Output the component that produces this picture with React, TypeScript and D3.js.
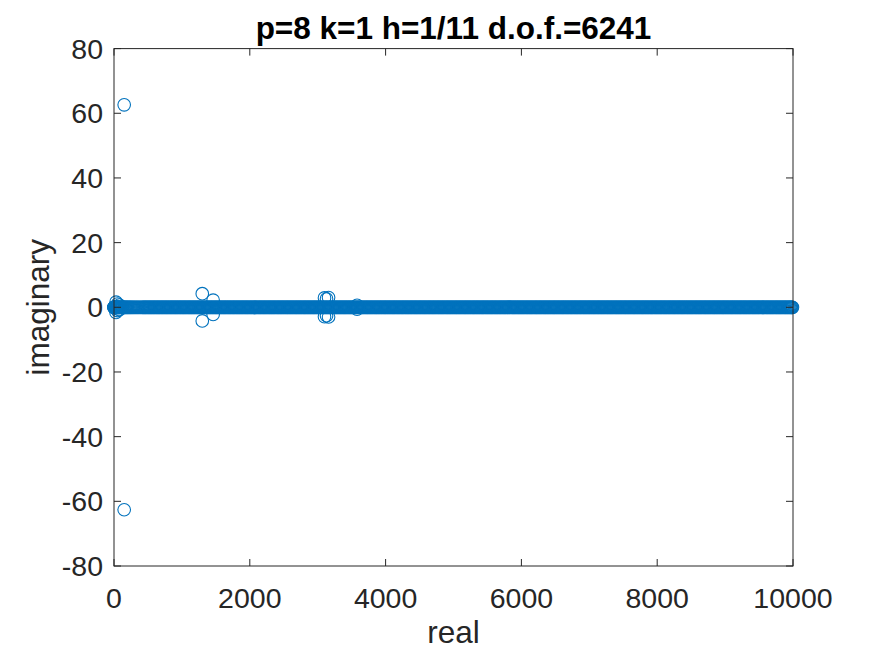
import React from "react";
import * as d3 from "d3";

// ---- data ----
const xTicks = [0, 2000, 4000, 6000, 8000, 10000];
const yTicks = [-80, -60, -40, -20, 0, 20, 40, 60, 80];
const titleText = "p=8 k=1 h=1/11 d.o.f.=6241";

// purely real eigenvalues (imaginary part 0), read as a dense band along the axis
const realEigsA = [
  0.3, 1, 2, 3.5, 5, 7, 9, 12, 15, 18, 22, 26, 30, 35, 40, 46, 52, 58, 65, 72, 80, 88, 96,
  105, 114, 124, 134, 145, 156, 168, 180, 193, 206, 220, 234, 248, 263, 278, 294, 310, 327,
  344, 361, 379, 397, 415, 441, 466, 493, 519, 545, 572, 597, 624, 650, 676, 703, 728, 755,
  781, 807, 834, 859, 886, 912, 938, 965, 990, 1017, 1043, 1069, 1096, 1121, 1148, 1174,
  1200, 1227, 1252, 1279, 1305, 1331, 1358, 1383, 1410, 1436, 1462, 1489, 1514, 1541, 1567,
  1593, 1620, 1645, 1672, 1698, 1724, 1751, 1776, 1803, 1829, 1855, 1882, 1907, 1934, 1960,
  1986, 2013, 2038, 2065, 2091, 2117, 2144, 2169, 2196, 2222, 2248, 2275, 2300, 2327, 2353,
  2379, 2406, 2431, 2458, 2484, 2510, 2537, 2562, 2589, 2615, 2641, 2668, 2693, 2720, 2746,
  2772, 2799, 2824, 2851, 2877, 2903, 2930, 2955, 2982, 3008, 3034, 3061, 3086, 3113, 3139,
  3165, 3192, 3217, 3244, 3270, 3296, 3323, 3348, 3375, 3401, 3427, 3454, 3479, 3506, 3532,
  3558, 3585, 3610, 3637, 3663, 3689, 3716, 3741, 3768, 3794, 3820, 3847, 3872, 3899, 3925,
  3951, 3978, 4003, 4030, 4056, 4082, 4109, 4134, 4161, 4187, 4213, 4240, 4265, 4292, 4318,
  4344, 4371, 4396, 4423, 4449, 4475, 4502, 4527, 4554, 4580, 4606, 4633, 4658, 4685, 4711,
  4737, 4764, 4789, 4816, 4842, 4868, 4895, 4920, 4947, 4973, 4999, 5026, 5051, 5078, 5104,
  5130, 5157, 5182, 5209, 5235, 5261, 5288, 5313, 5340, 5366, 5392, 5419, 5444, 5471, 5497,
  5523, 5550, 5575, 5602, 5628, 5654, 5681, 5706, 5733, 5759, 5785, 5812, 5837, 5864, 5890,
  5916, 5943, 5968, 5995, 6021, 6047, 6074, 6099, 6126, 6152, 6178, 6205, 6230, 6257, 6283,
  6309, 6336, 6361, 6388, 6414, 6440, 6467, 6492, 6519, 6545, 6571, 6598, 6623, 6650, 6676,
  6702, 6729, 6754, 6781, 6807, 6833, 6860, 6885, 6912, 6938, 6964, 6991, 7016, 7043, 7069,
  7095, 7122, 7147, 7174, 7200, 7226, 7253, 7278, 7305, 7331, 7357, 7384, 7409, 7436, 7462,
  7488, 7515, 7540, 7567, 7593, 7619, 7646, 7671, 7698, 7724, 7750, 7777, 7802, 7829, 7855,
  7881, 7908, 7933, 7960, 7986, 8012, 8039, 8064, 8091, 8117, 8143, 8170, 8195, 8222, 8248,
  8274, 8301, 8326, 8353, 8379, 8405, 8432, 8457, 8484, 8510, 8536, 8563, 8588, 8615, 8641,
  8667, 8694, 8719, 8746, 8772, 8798, 8825, 8850, 8877, 8903, 8929, 8956, 8981, 9008, 9034,
  9060, 9087, 9112, 9139, 9165, 9191, 9218, 9243, 9270, 9296, 9322, 9349, 9374, 9401, 9427,
  9453, 9480, 9505, 9532, 9558, 9584, 9611, 9636, 9663, 9689, 9715, 9742, 9767, 9794, 9820,
  9846, 9873, 9898, 9925, 9951, 9975, 9992,
];

const realEigsB = [
  428, 454, 480, 506, 532, 558, 585, 611, 637, 663, 690, 716, 742, 768, 794, 821, 847, 873,
  899, 925, 952, 978, 1004, 1030, 1056, 1083, 1109, 1135, 1161, 1187, 1214, 1240, 1266,
  1292, 1318, 1345, 1371, 1397, 1423, 1449, 1476, 1502, 1528, 1554, 1580, 1607, 1633, 1659,
  1685, 1711, 1738, 1764, 1790, 1816, 1842, 1869, 1895, 1921, 1947, 1973, 2000, 2026, 2052,
  2078, 2104, 2131, 2157, 2183, 2209, 2235, 2262, 2288, 2314, 2340, 2366, 2393, 2419, 2445,
  2471, 2497, 2524, 2550, 2576, 2602, 2628, 2655, 2681, 2707, 2733, 2759, 2786, 2812, 2838,
  2864, 2890, 2917, 2943, 2969, 2995, 3021, 3048, 3074, 3100, 3126, 3152, 3179, 3205, 3231,
  3257, 3283, 3310, 3336, 3362, 3388, 3414, 3441, 3467, 3493, 3519, 3545, 3572, 3598, 3624,
  3650, 3676, 3703, 3729, 3755, 3781, 3807, 3834, 3860, 3886, 3912, 3938, 3965, 3991, 4017,
  4043, 4069, 4096, 4122, 4148, 4174, 4200, 4227, 4253, 4279, 4305, 4331, 4358, 4384, 4410,
  4436, 4462, 4489, 4515, 4541, 4567, 4593, 4620, 4646, 4672, 4698, 4724, 4751, 4777, 4803,
  4829, 4855, 4882, 4908, 4934, 4960, 4986, 5013, 5039, 5065, 5091, 5117, 5144, 5170, 5196,
  5222, 5248, 5275, 5301, 5327, 5353, 5379, 5406, 5432, 5458, 5484, 5510, 5537, 5563, 5589,
  5615, 5641, 5668, 5694, 5720, 5746, 5772, 5799, 5825, 5851, 5877, 5903, 5930, 5956, 5982,
  6008, 6034, 6061, 6087, 6113, 6139, 6165, 6192, 6218, 6244, 6270, 6296, 6323, 6349, 6375,
  6401, 6427, 6454, 6480, 6506, 6532, 6558, 6585, 6611, 6637, 6663, 6689, 6716, 6742, 6768,
  6794, 6820, 6847, 6873, 6899, 6925, 6951, 6978, 7004, 7030, 7056, 7082, 7109, 7135, 7161,
  7187, 7213, 7240, 7266, 7292, 7318, 7344, 7371, 7397, 7423, 7449, 7475, 7502, 7528, 7554,
  7580, 7606, 7633, 7659, 7685, 7711, 7737, 7764, 7790, 7816, 7842, 7868, 7895, 7921, 7947,
  7973, 7999, 8026, 8052, 8078, 8104, 8130, 8157, 8183, 8209, 8235, 8261, 8288, 8314, 8340,
  8366, 8392, 8419, 8445, 8471, 8497, 8523, 8550, 8576, 8602, 8628, 8654, 8681, 8707, 8733,
  8759, 8785, 8812, 8838, 8864, 8890, 8916, 8943, 8969, 8995, 9021, 9047, 9074, 9100, 9126,
  9152, 9178, 9205, 9231, 9257, 9283, 9309, 9336, 9362, 9388, 9414, 9440, 9467, 9493, 9519,
  9545, 9571, 9598, 9624, 9650, 9676, 9702, 9729, 9755, 9781, 9807, 9833, 9860, 9886, 9912,
  9938, 9963, 9984,
];

// complex eigenvalues: real parts and positive imaginary parts (conjugates added)
const complexRe = [150, 30, 50, 80, 1300, 1460, 3100, 3130, 3160, 3580];
const complexIm = [62.6, 1.6, 1.0, 0.7, 4.2, 2.2, 2.9, 2.6, 3.0, 0.6];

// ---- layout ----
const W = 875;
const H = 656;
const margin = { left: 114, right: 82, top: 48.6, bottom: 90 };
const color = "#0072BD";
const axisColor = "#262626";
const font = "Arial, 'Liberation Sans', Helvetica, sans-serif";

export default function App() {
  const x = d3.scaleLinear().domain([0, 10000]).range([margin.left, W - margin.right]);
  const y = d3.scaleLinear().domain([-80, 80]).range([H - margin.bottom, margin.top]);

  const points: { re: number; im: number }[] = [];
  realEigsA.forEach((r) => points.push({ re: r, im: 0 }));
  realEigsB.forEach((r) => points.push({ re: r, im: 0 }));
  complexRe.forEach((r, i) => {
    points.push({ re: r, im: complexIm[i] });
    points.push({ re: r, im: -complexIm[i] });
  });

  const x0 = x.range()[0];
  const x1 = x.range()[1];
  const y0 = y.range()[0];
  const y1 = y.range()[1];
  const tl = 7;

  return (
    <svg
      width={W}
      height={H}
      style={{ position: "absolute", left: 0, top: 0, background: "#fff" }}
    >
      <rect x={0} y={0} width={W} height={H} fill="#fff" />
      <g>
        {points.map((p, i) => (
          <circle
            key={i}
            cx={x(p.re)}
            cy={y(p.im)}
            r={6.3}
            fill="none"
            stroke={color}
            strokeWidth={1.1}
          />
        ))}
      </g>
      {/* box */}
      <rect
        x={x0}
        y={y1}
        width={x1 - x0}
        height={y0 - y1}
        fill="none"
        stroke={axisColor}
        strokeWidth={1}
      />
      {/* x ticks */}
      {xTicks.map((t) => (
        <g key={"x" + t}>
          <line x1={x(t)} x2={x(t)} y1={y0} y2={y0 - tl} stroke={axisColor} />
          <line x1={x(t)} x2={x(t)} y1={y1} y2={y1 + tl} stroke={axisColor} />
          <text
            x={x(t)}
            y={y0 + 42}
            textAnchor="middle"
            fontFamily={font}
            fontSize={28.5}
            fill={axisColor}
          >
            {t}
          </text>
        </g>
      ))}
      {/* y ticks */}
      {yTicks.map((t) => (
        <g key={"y" + t}>
          <line x1={x0} x2={x0 + tl} y1={y(t)} y2={y(t)} stroke={axisColor} />
          <line x1={x1} x2={x1 - tl} y1={y(t)} y2={y(t)} stroke={axisColor} />
          <text
            x={x0 - 11}
            y={y(t)}
            dy="0.35em"
            textAnchor="end"
            fontFamily={font}
            fontSize={28.5}
            fill={axisColor}
          >
            {t}
          </text>
        </g>
      ))}
      {/* labels */}
      <text
        x={(x0 + x1) / 2}
        y={643}
        textAnchor="middle"
        fontFamily={font}
        fontSize={31.5}
        fill={axisColor}
      >
        real
      </text>
      <text
        transform={`translate(49, ${(y0 + y1) / 2}) rotate(-90)`}
        textAnchor="middle"
        fontFamily={font}
        fontSize={31.5}
        fill={axisColor}
      >
        imaginary
      </text>
      <text
        x={(x0 + x1) / 2}
        y={39}
        textAnchor="middle"
        fontFamily={font}
        fontSize={31.5}
        fontWeight="bold"
        fill="#000"
      >
        {titleText}
      </text>
    </svg>
  );
}
